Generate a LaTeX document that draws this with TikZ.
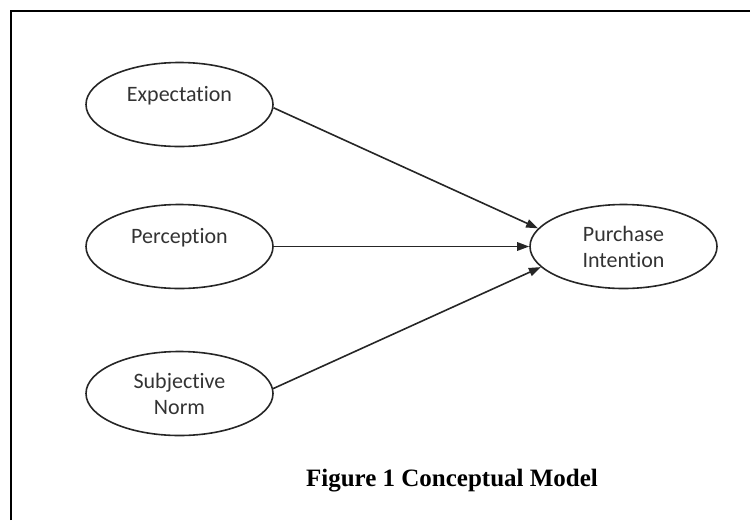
\documentclass[tikz,border=0pt]{standalone}
\usepackage{fontspec}
\setmainfont{Carlito}[Ligatures=NoCommon]
\newfontfamily\capfont{Liberation Serif}
\usetikzlibrary{arrows.meta,shapes.geometric}

\begin{document}
\begin{tikzpicture}[x=1pt, y=-1pt, long arrow/.style={-{Triangle[length=12pt,width=8.5pt]}}]
		% Define styles
		\tikzstyle{construct}=[ellipse,draw,line width=1.6pt,draw=black!85,minimum width=187pt,minimum height=84pt,inner sep=0pt,align=center,font=\fontsize{22}{26}\selectfont,text=black!80]
		\tikzstyle{top text}=[text height=15pt,text depth=21pt]
		\tikzstyle{path edge}=[draw,line width=1.6pt,draw=black!85,long arrow]
		
		\useasboundingbox (0,0) rectangle (750,520);
		
		% Frame (cut off at right and bottom)
		\draw[line width=2.5pt] (11,520) -- (11,11) -- (750,11);
		
		% Independent variables
		\node[construct, top text] (expect) at (179.5,104.5) {Expectation};
		\node[construct, top text] (percept) at (179.5,246.5) {Perception};
		\node[construct] (subnorm) at (179.5,393.5) {Subjective\\Norm};
		
		% Dependent variable
		\node[construct] (purchase) at (623.5,246.5) {Purchase\\Intention};
		
		% Paths
		\draw[path edge] (expect.-2) -- (purchase.168);
		\draw[path edge] (percept.east) -- (purchase.west);
		\draw[path edge] (subnorm.3) -- (purchase.194);
		
		% Caption
		\node[font=\capfont\bfseries\fontsize{25}{30}\selectfont] (caption) at (452,481) {Figure 1 Conceptual Model};
		
	\end{tikzpicture}
\end{document}
